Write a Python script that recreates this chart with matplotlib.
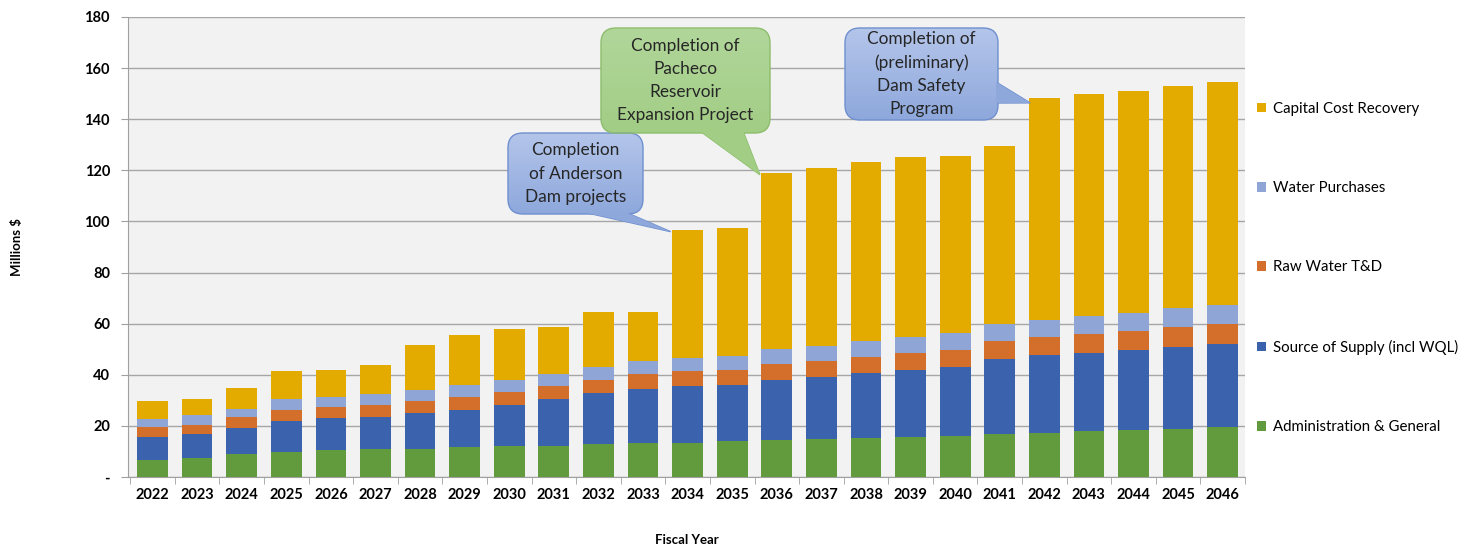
import matplotlib
matplotlib.use('Agg')
import matplotlib.pyplot as plt
import numpy as np
from matplotlib.patches import FancyBboxPatch, Polygon
from matplotlib.colors import LinearSegmentedColormap

plt.rcParams['font.family'] = ['Lato', 'DejaVu Sans']

# data (millions $)
years = [str(y) for y in range(2022, 2047)]
admin_general = [6.7, 7.6, 9.1, 9.9, 10.6, 11.1, 11.1, 11.7, 12.0, 12.3, 12.9, 13.2, 13.4,
                 14.1, 14.3, 14.9, 15.3, 15.8, 16.2, 16.8, 17.3, 18.0, 18.3, 18.9, 19.4]
source_supply = [8.8, 9.1, 10.2, 12.0, 12.6, 12.4, 13.8, 14.6, 16.2, 18.2, 20.0, 21.4, 22.3,
                 21.9, 23.8, 24.4, 25.5, 26.2, 26.8, 29.5, 30.3, 30.5, 31.4, 32.0, 32.6]
raw_water = [4.1, 3.8, 4.2, 4.4, 4.3, 4.7, 4.7, 5.0, 5.2, 5.2, 5.2, 5.6, 5.8,
             6.0, 6.0, 6.2, 6.1, 6.6, 6.8, 7.0, 7.1, 7.3, 7.5, 7.9, 7.9]
water_purchases = [3.0, 3.6, 3.1, 4.1, 3.7, 4.4, 4.4, 4.7, 4.6, 4.7, 4.9, 5.1, 5.2,
                   5.2, 5.9, 5.9, 6.3, 6.2, 6.4, 6.6, 6.7, 7.1, 7.1, 7.3, 7.5]
capital_recovery = [7.0, 6.4, 8.1, 11.0, 10.8, 11.1, 17.6, 19.7, 20.0, 18.3, 21.6, 19.3, 49.8,
                    50.2, 68.8, 69.5, 70.0, 70.5, 69.6, 69.7, 87.0, 86.8, 86.8, 86.9, 87.0]

series = [
    ('Administration & General', admin_general, '#629B3E'),
    ('Source of Supply (incl WQL)', source_supply, '#3B63AD'),
    ('Raw Water T&D', raw_water, '#D46F2B'),
    ('Water Purchases', water_purchases, '#8FA5D6'),
    ('Capital Cost Recovery', capital_recovery, '#E3AB00'),
]

fig = plt.figure(figsize=(14.8, 5.46), dpi=100)
ax = fig.add_axes([128 / 1480, 1 - 477 / 546, 1117 / 1480, 460 / 546])
ax.set_facecolor('#F2F2F2')

x = np.arange(len(years))
bottom = np.zeros(len(years))
for name, vals, col in series:
    ax.bar(x, vals, width=0.69, bottom=bottom, color=col, label=name, zorder=3)
    bottom += np.array(vals)
totals = bottom

ax.set_xlim(-0.55, 24.5)
ax.set_ylim(0, 180)
ax.set_yticks(range(0, 181, 20))
ax.set_yticklabels(['-' if v == 0 else str(v) for v in range(0, 181, 20)],
                   fontsize=10.5, fontweight='bold')
ax.set_xticks(x)
ax.set_xticklabels(years, fontsize=10.5, fontweight='bold')
ax.set_xticks(np.arange(-0.5, 25, 1), minor=True)
ax.tick_params(axis='x', which='major', length=0, pad=8)
ax.tick_params(axis='x', which='minor', length=5, color='#A0A0A0')
ax.tick_params(axis='y', length=5, color='#A0A0A0', pad=8)
ax.grid(axis='y', color='#A6A6A6', linewidth=1, zorder=0)
for s in ['top', 'right']:
    ax.spines[s].set_visible(False)
for s in ['left', 'bottom']:
    ax.spines[s].set_color('#A0A0A0')

ax.set_ylabel('Millions $', fontsize=9.5, fontweight='bold')
ax.yaxis.set_label_coords(-0.094, 0.5)
ax.set_xlabel('Fiscal Year', fontsize=9.5, fontweight='bold')
ax.xaxis.set_label_coords(0.5, -0.125)

h, l = ax.get_legend_handles_labels()
fig.legend(h[::-1], l[::-1], loc='center left', bbox_to_anchor=(1243 / 1480, 1 - 268 / 546),
           frameon=False, fontsize=10.8, handlelength=0.6, handleheight=0.6,
           handletextpad=0.5, labelspacing=4.35)

# overlay axes in inch units for the callouts
ov = fig.add_axes([0, 0, 1, 1], zorder=10)
ov.axis('off')
ov.patch.set_alpha(0)


def to_inch(xy):
    return fig.dpi_scale_trans.inverted().transform(ax.transData.transform(xy))


def callout(box, base, tip_xy, text, top_col, bot_col, edge):
    x0, y0, w, hgt = box
    pts = [base[0], base[1], to_inch(tip_xy)]
    ov.add_patch(Polygon(pts, closed=True, facecolor=bot_col, edgecolor=edge,
                         linewidth=1, zorder=1))
    bx = FancyBboxPatch((x0, y0), w, hgt, boxstyle='round,pad=0,rounding_size=0.15',
                        facecolor='none', edgecolor=edge, linewidth=1, zorder=3)
    ov.add_patch(bx)
    cmap = LinearSegmentedColormap.from_list('g', [bot_col, top_col])
    grad = np.linspace(0, 1, 100).reshape(-1, 1)
    im = ov.imshow(grad, cmap=cmap, extent=(x0, x0 + w, y0, y0 + hgt), origin='lower',
                   aspect='auto', zorder=2, interpolation='bilinear')
    im.set_clip_path(bx)
    ov.add_patch(Polygon(pts, closed=True, facecolor=bot_col, edgecolor='none', zorder=4))
    ov.text(x0 + w / 2, y0 + hgt / 2, text, ha='center', va='center',
            fontsize=12.4, color='#262626', linespacing=1.55, zorder=5)


callout((5.08, 3.32, 1.35, 0.81), [(5.83, 3.34), (6.25, 3.34)], (11.62, totals[12] - 0.5),
        'Completion\nof Anderson\nDam projects', '#B4C5EA', '#8EA8DC', '#6F8FCF')
callout((6.01, 4.13, 1.69, 1.05), [(7.00, 4.15), (7.43, 4.15)], (13.62, totals[14] - 0.5),
        'Completion of\nPacheco\nReservoir\nExpansion Project', '#B1D69A', '#A2CD85', '#8DBE6C')
callout((8.45, 4.26, 1.53, 0.92), [(9.96, 4.64), (9.96, 4.43)], (19.68, totals[20] - 2),
        'Completion of\n(preliminary)\nDam Safety\nProgram', '#B4C5EA', '#8EA8DC', '#6F8FCF')

ov.set_xlim(0, 14.8)
ov.set_ylim(0, 5.46)

fig.savefig('out.png', dpi=100)
